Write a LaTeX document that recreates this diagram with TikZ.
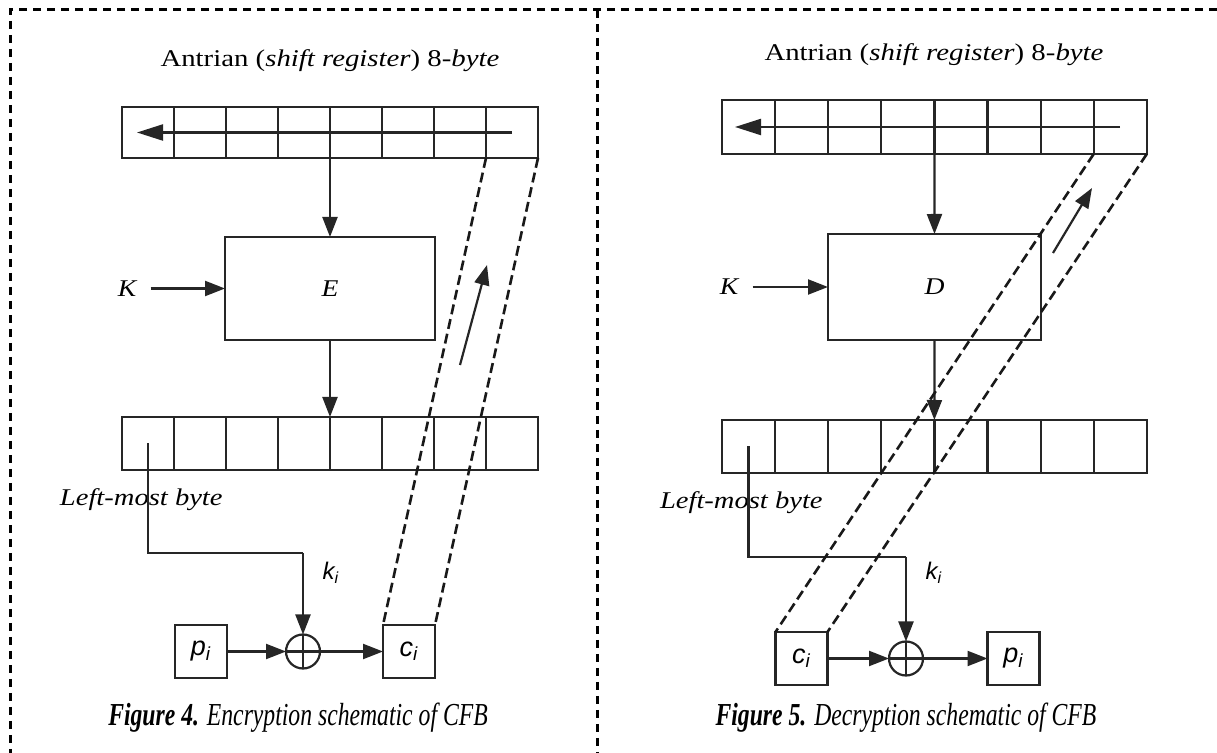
\documentclass[tikz,border=0pt]{standalone}
\usepackage{fontspec}
\setmainfont{Liberation Serif}
\newfontfamily\sansf{Liberation Sans}
\usetikzlibrary{arrows.meta}
\begin{document}
\begin{tikzpicture}[x=0.5pt,y=-0.5pt,
  ln/.style={line width=1.1pt, draw=black!85},
  cellL/.style={ln, draw, minimum width=26pt, minimum height=25.5pt, inner sep=0pt, outer sep=0pt},
  cellR/.style={ln, draw, minimum width=26.55pt, minimum height=26.5pt, inner sep=0pt, outer sep=0pt},
  blockbox/.style={ln, draw, inner sep=0pt, outer sep=0pt, font=\fontsize{12}{14}\selectfont\itshape},
  iobox/.style={ln, draw, minimum width=26pt, minimum height=26.5pt, inner sep=0pt, outer sep=0pt, font=\sansf\fontsize{13.5}{15}\selectfont\itshape},
  xorsym/.style={ln, draw, circle, minimum size=17pt, inner sep=0pt, outer sep=0pt,
     path picture={\draw[ln] (path picture bounding box.north) -- (path picture bounding box.south)
                    (path picture bounding box.west) -- (path picture bounding box.east);}},
  arr/.style={ln, -{Triangle[length=10pt,width=7.5pt]}},
  bigarr/.style={ln, -{Triangle[length=13pt,width=8pt]}},
  feed/.style={line width=1.3pt, draw=black!90, dash pattern=on 5pt off 2.5pt},
  border/.style={line width=1.5pt, dash pattern=on 4pt off 3pt},
  title/.style={font=\fontsize{12}{14}\selectfont, inner sep=0pt},
  lbl/.style={font=\fontsize{12}{14}\selectfont\itshape, inner sep=0pt},
  klbl/.style={font=\sansf\fontsize{12}{14}\selectfont\itshape, inner sep=0pt},
  capt/.style={font=\fontsize{16}{18}\selectfont, inner sep=0pt}
]
\useasboundingbox (0,0) rectangle (1217,753);
% border
\draw[border] (1217,10) -- (10,10) -- (10,753);
\draw[border] (597,10) -- (597,753);

% ================= LEFT: encryption =================
\node[title] (titleL) at (330,61) {\scalebox{1.2}[1]{Antrian (\textit{shift register}) 8-\textit{byte}}};
\foreach \i in {1,...,8} {
  \node[cellL] (LT\i) at ({122+52*(\i-0.5)},132.5) {};
  \node[cellL, minimum height=26.5pt] (LB\i) at ({122+52*(\i-0.5)},443.5) {};
}
\coordinate (LTa) at (512,132.5);
\coordinate (LTb) at (137,132.5);
\draw[bigarr] (LTa) -- (LTb);
\node[blockbox, minimum width=105pt, minimum height=51.5pt] (E) at (330,288.5) {\scalebox{1.15}[1]{E}};
\node[lbl] (KL) at (127,288.5) {\scalebox{1.15}[1]{K}};
\draw[arr] ([xshift=7pt]KL.east) -- (E.west);
\draw[arr] (LT4.south east) -- (E.north);
\draw[arr] (E.south) -- (LB4.north east);
\node[lbl, anchor=east] (lmbL) at (223,500) {\scalebox{1.19}[1]{Left-most byte}};
\node[iobox] (pL) at (201,651.5) {p\textsubscript{\itshape i}};
\node[xorsym] (xL) at (303,651.5) {};
\node[iobox] (cL) at (409,651.5) {c\textsubscript{\itshape i}};
\coordinate (kcL) at (303,553);
\draw[ln] (LB1.center) |- (kcL);
\draw[arr] (kcL) -- (xL.north);
\node[klbl] (kL) at (331,573) {k\textsubscript{\itshape i}};
\draw[arr] (pL.east) -- (xL.west);
\draw[arr] (xL.east) -- (cL.west);
\draw[feed] (LT7.south east) -- (cL.north west);
\draw[feed] (LT8.south east) -- (cL.north east);
\coordinate (fbLa) at (460,365);
\coordinate (fbLb) at (487,265);
\draw[arr] (fbLa) -- (fbLb);
\node[capt] (capL) at (298,718) {\scalebox{0.74}[1]{\textbf{\textit{Figure 4.}} \textit{Encryption schematic of CFB}}};

% ================= RIGHT: decryption =================
\node[title] (titleR) at (934,55) {\scalebox{1.2}[1]{Antrian (\textit{shift register}) 8-\textit{byte}}};
\foreach \i in {1,...,8} {
  \node[cellR, minimum height=27pt] (RT\i) at ({722+53.1*(\i-0.5)},127) {};
  \node[cellR] (RB\i) at ({722+53.1*(\i-0.5)},446.5) {};
}
\coordinate (RTa) at (1120,127);
\coordinate (RTb) at (735,127);
\draw[bigarr] (RTa) -- (RTb);
\node[blockbox, minimum width=106.5pt, minimum height=53pt] (D) at (934.5,287) {\scalebox{1.15}[1]{D}};
\node[lbl] (KR) at (729,287) {\scalebox{1.15}[1]{K}};
\draw[arr] ([xshift=7pt]KR.east) -- (D.west);
\draw[arr] (RT4.south east) -- (D.north);
\draw[arr] (D.south) -- (RB4.north east);
\node[lbl, anchor=east] (lmbR) at (823,503) {\scalebox{1.19}[1]{Left-most byte}};
\node[iobox] (cR) at (801.5,658.5) {c\textsubscript{\itshape i}};
\node[xorsym] (xR) at (906,658.5) {};
\node[iobox] (pR) at (1013.5,658.5) {p\textsubscript{\itshape i}};
\coordinate (kcR) at (906,557);
\draw[ln] (RB1.center) |- (kcR);
\draw[arr] (kcR) -- (xR.north);
\node[klbl] (kR) at (934,573) {k\textsubscript{\itshape i}};
\draw[arr] (cR.east) -- (xR.west);
\draw[arr] (xR.east) -- (pR.west);
\draw[feed] (RT7.south east) -- (cR.north west);
\draw[feed] (RT8.south east) -- (cR.north east);
\coordinate (fbRa) at (1053,253);
\coordinate (fbRb) at (1092,188);
\draw[arr] (fbRa) -- (fbRb);
\node[capt] (capR) at (906,718) {\scalebox{0.74}[1]{\textbf{\textit{Figure 5.}} \textit{Decryption schematic of CFB}}};
\end{tikzpicture}
\end{document}
